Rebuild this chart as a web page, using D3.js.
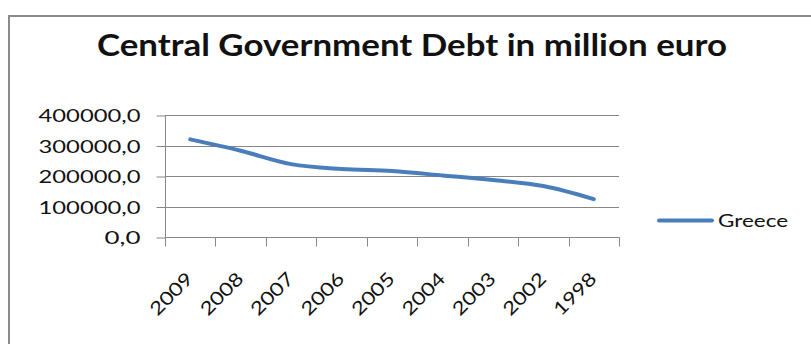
<!DOCTYPE html>
<html>
<head>
<meta charset="utf-8">
<script src="https://cdn.jsdelivr.net/npm/d3@7/dist/d3.min.js"></script>
<style>
html,body{margin:0;padding:0;background:#fff;}
svg{display:block;}
text{font-family:Lato,"Open Sans","Liberation Sans",sans-serif;fill:#111;}
</style>
</head>
<body>
<svg id="chart" width="811" height="344"></svg>
<script>
const categories = ["2009","2008","2007","2006","2005","2004","2003","2002","1998"];
const greece = [320000, 283000, 239000, 223000, 216000, 202000, 187000, 167000, 124000];
const yTicks = [0, 100000, 200000, 300000, 400000];
const yTickLabels = ["0,0","100000,0","200000,0","300000,0","400000,0"];
const seriesName = "Greece";
const titleText = "Central Government Debt in million euro";

const svg = d3.select("#chart");
const gridColor = "#888888";
const lineColor = "#4a7ebb";

// frame
svg.append("rect").attr("x", 9).attr("y", 16).attr("width", 900).attr("height", 400)
  .attr("fill", "none").attr("stroke", "#8a8a8a").attr("stroke-width", 2);

const x = d3.scaleBand().domain(categories).range([165, 619]).padding(0);
const y = d3.scaleLinear().domain([0, 400000]).range([237, 115]);

// title
svg.append("text").attr("x", 97).attr("y", 56)
  .attr("font-size", 31).attr("font-weight", "bold")
  .attr("textLength", 630).attr("lengthAdjust", "spacingAndGlyphs")
  .text(titleText);

// gridlines
svg.append("g").selectAll("line").data(yTicks.filter(d => d > 0)).join("line")
  .attr("x1", 165).attr("x2", 619)
  .attr("y1", d => Math.round(y(d)) + 0.5).attr("y2", d => Math.round(y(d)) + 0.5)
  .attr("stroke", gridColor).attr("stroke-width", 1);

// y axis
const yAxis = d3.axisLeft(y).tickValues(yTicks).tickSize(9).tickPadding(0).tickFormat(() => "");
const gy = svg.append("g").attr("transform", "translate(165.5,0.5)").call(yAxis);
gy.select(".domain").attr("stroke", gridColor).attr("d", `M0,${y(400000)-0.5}V${Math.round(y(0))}`);
gy.selectAll(".tick line").attr("stroke", gridColor);
gy.selectAll(".tick").each(function(d, i) {
  const w = yTickLabels[i].length === 3 ? 36 : 102;
  d3.select(this).append("text")
    .attr("x", -25).attr("y", 6)
    .attr("text-anchor", "end")
    .attr("font-size", 17)
    .attr("textLength", w).attr("lengthAdjust", "spacingAndGlyphs")
    .text(yTickLabels[i]);
});

// x axis line and ticks
const y0 = Math.round(y(0)) + 0.5;
svg.append("line").attr("x1", 165).attr("x2", 619.5).attr("y1", y0).attr("y2", y0)
  .attr("stroke", gridColor);
const bounds = categories.map(c => x(c)).concat([x(categories[categories.length-1]) + x.bandwidth()]);
svg.append("g").selectAll("line").data(bounds).join("line")
  .attr("x1", d => Math.round(d) + 0.5).attr("x2", d => Math.round(d) + 0.5)
  .attr("y1", y0).attr("y2", y0 + 9)
  .attr("stroke", gridColor);

// x labels
svg.append("g").selectAll("text").data(categories).join("text")
  .attr("transform", d => `translate(${x(d) + x.bandwidth()/2 + 4},280) rotate(-45)`)
  .attr("text-anchor", "end")
  .attr("font-size", 18.5)
  .attr("textLength", 52).attr("lengthAdjust", "spacingAndGlyphs")
  .text(d => d);

// line
const line = d3.line()
  .x((d, i) => x(categories[i]) + x.bandwidth()/2)
  .y(d => y(d))
  .curve(d3.curveCatmullRom.alpha(0.5));
svg.append("path").datum(greece).attr("d", line)
  .attr("fill", "none").attr("stroke", lineColor).attr("stroke-width", 4)
  .attr("stroke-linecap", "round").attr("stroke-linejoin", "round");

// legend
svg.append("line").attr("x1", 659).attr("x2", 712).attr("y1", 220.5).attr("y2", 220.5)
  .attr("stroke", lineColor).attr("stroke-width", 4).attr("stroke-linecap", "round");
svg.append("text").attr("x", 718).attr("y", 227)
  .attr("font-size", 17.5)
  .attr("textLength", 70).attr("lengthAdjust", "spacingAndGlyphs")
  .text(seriesName);
</script>
</body>
</html>
